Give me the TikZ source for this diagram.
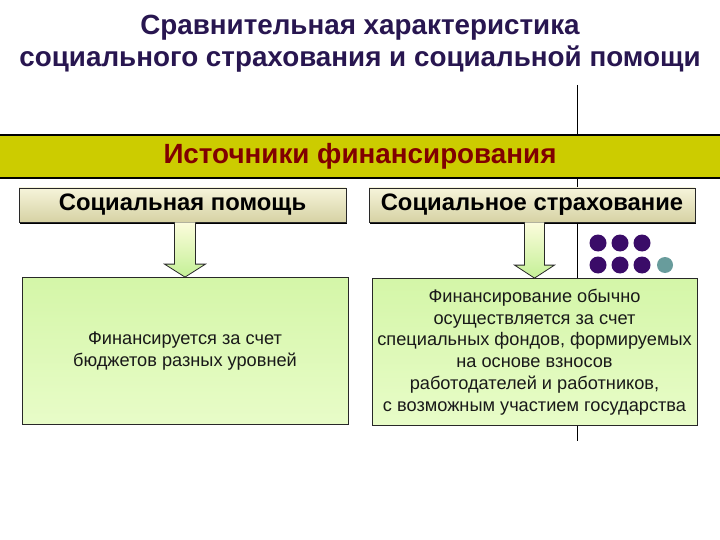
\documentclass[tikz,border=0pt]{standalone}
\usepackage{fontspec}
\setmainfont{Liberation Sans}
\usetikzlibrary{calc,shadows}
\definecolor{titlec}{RGB}{40,22,80}
\definecolor{bandc}{RGB}{204,204,0}
\definecolor{bandtxt}{RGB}{128,0,0}
\definecolor{capTop}{RGB}{246,244,218}
\definecolor{capBot}{RGB}{214,210,164}
\definecolor{grTop}{RGB}{212,246,168}
\definecolor{grBot}{RGB}{232,252,200}
\definecolor{arTop}{RGB}{252,252,220}
\definecolor{arBot}{RGB}{196,240,150}
\definecolor{dotp}{RGB}{58,12,104}
\definecolor{dott}{RGB}{104,156,156}
\definecolor{edge}{RGB}{40,40,40}
\tikzset{
  titletext/.style={text=titlec, font=\fontsize{27.8}{32}\selectfont\bfseries, align=center, inner sep=0},
  band/.style={fill=bandc, draw=black, line width=1.6pt, minimum width=724, minimum height=43, inner sep=0,
    text=bandtxt, font=\fontsize{27.8}{30}\selectfont\bfseries},
  capbox/.style={top color=capTop, bottom color=capBot, draw=edge, line width=0.6pt,
    general shadow={fill=black, shadow xshift=1pt, shadow yshift=-2pt},
    minimum height=34, inner sep=0, font=\fontsize{23.8}{26}\selectfont\bfseries},
  greenbox/.style={top color=grTop, bottom color=grBot, draw=edge, line width=0.8pt,
    minimum height=147, inner sep=0, align=center, text=black!90,
    font=\fontsize{18.2}{21.7}\selectfont},
  downarrow/.style={top color=arTop, bottom color=arBot, draw=edge, line width=0.8pt, line join=miter},
  dot/.style={fill=dotp},
  dotlight/.style={fill=dott}
}
\begin{document}
\begin{tikzpicture}[x=1pt,y=-1pt]
\useasboundingbox[fill=white] (0,0) rectangle (720,540);

% vertical rule
\coordinate (vtop) at (577,85);
\coordinate (vbot) at (577,441);
\draw[line width=1pt, black] (vtop) -- (vbot);

% title
\node[titletext] (title) at (360,44) {Сравнительная характеристика\\социального страхования и социальной помощи};

% band
\node[band] (band) at (360,156.5) {Источники финансирования};

% caption boxes
\node[capbox, minimum width=327] (sp) at (182.5,205) {Социальная помощь};
\node[capbox, minimum width=326] (ss) at (532,205) {Социальное страхование};

% green boxes
\node[greenbox, minimum width=326] (gp) at (185,351) {Финансируется за счет\\бюджетов разных уровней};
\node[greenbox, minimum width=325] (gs) at (534.5,352) {Финансирование обычно\\осуществляется за счет\\специальных фондов, формируемых\\на основе взносов\\работодателей и работников,\\с возможным участием государства};

% arrows (let-coordinates are canvas coordinates, y upward)
\shade[downarrow] let \p1=(sp.south), \p2=(gp.north) in
  (\x2-10.5,\y1) -- (\x2-10.5,\y2+13) -- (\x2-20.5,\y2+13) -- (\p2) -- (\x2+20.5,\y2+13) -- (\x2+10.5,\y2+13) -- (\x2+10.5,\y1);
\shade[downarrow] let \p1=(ss.south), \p2=(gs.north) in
  (\x2-10,\y1) -- (\x2-10,\y2+13) -- (\x2-20,\y2+13) -- (\p2) -- (\x2+20,\y2+13) -- (\x2+10,\y2+13) -- (\x2+10,\y1);

% dots
\foreach \i/\x in {1/598,2/620,3/642}{
  \fill[dot] (\x,243) circle (8.5);
  \fill[dot] (\x,265) circle (8.5);
}
\fill[dotlight] (665,265) circle (8);
\end{tikzpicture}
\end{document}
